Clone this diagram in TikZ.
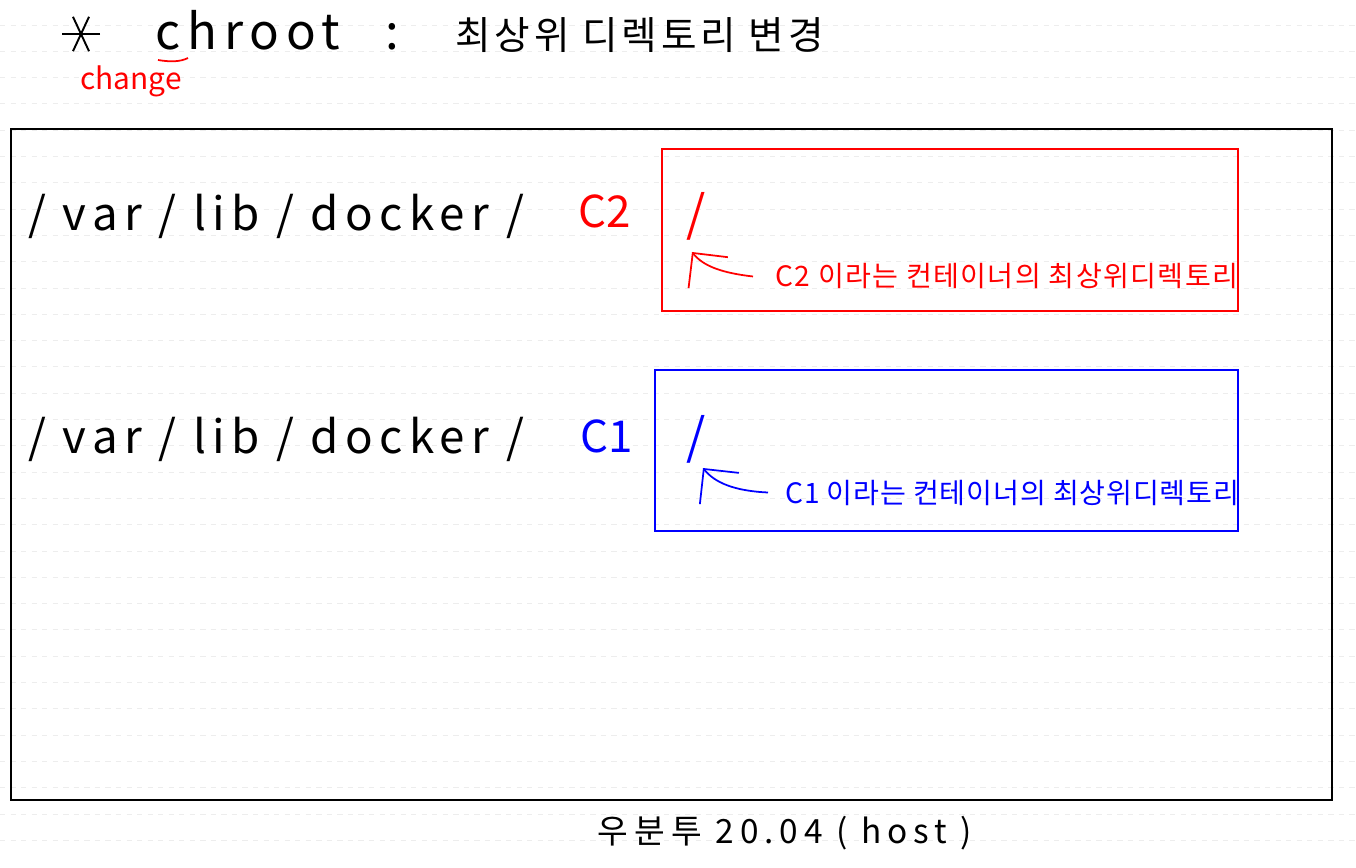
\documentclass[tikz,border=0pt]{standalone}
\usepackage{fontspec}
\setmainfont{Noto Sans CJK KR}
\usetikzlibrary{arrows.meta, positioning}
\definecolor{penred}{RGB}{255,0,0}
\definecolor{penblue}{RGB}{0,0,255}

\begin{document}
\begin{tikzpicture}[x=0.02cm, y=-0.02cm,
    dirtext/.style={anchor=base west, inner sep=0pt, font=\fontsize{26}{30}\selectfont\addfontfeature{LetterSpace=14}},
    rootslash/.style={anchor=base west, inner sep=0pt, font=\fontsize{28}{32}\selectfont},
    note/.style={anchor=base west, inner sep=0pt, font=\fontsize{16}{19}\selectfont\addfontfeature{LetterSpace=5}},
    titletext/.style={anchor=base west, inner sep=0pt, font=\fontsize{28}{32}\selectfont},
    rootbox/.style={draw, line width=0.7pt},
    arr/.style={-{Straight Barb[length=5mm, width=10mm]}, line width=1pt},
    ruled/.style={black!7, dashed, line width=0.5pt}
]
    \useasboundingbox[fill=white] (0,0) rectangle (1356,868);

    % ruled paper
    \foreach \k in {0,...,31}
        \draw[ruled] (0,{25+26.3*\k}) -- (1356,{25+26.3*\k});

    % title
    \coordinate (star) at (81,34);
    \foreach \a in {0,65,115}
        \draw[line width=1.1pt] (star) ++(\a:19) -- ++(\a+180:38);
    \node[titletext, font=\fontsize{28}{32}\selectfont\addfontfeature{LetterSpace=14}] (chroot) at (155,50) {chroot};
    \node[titletext] (colon) at (385,50) {:};
    \node[anchor=base west, inner sep=0pt, font=\fontsize{22}{26}\selectfont\addfontfeature{LetterSpace=10}] (meaning) at (455,50) {최상위 디렉토리 변경};
    \draw[penred, line width=1pt] (158,60) .. controls (170,62) and (180,62) .. (188,58);
    \node[anchor=base west, inner sep=0pt, text=penred, font=\fontsize{17}{20}\selectfont] (change) at (80,90) {change};

    % host
    \node[rootbox, draw=black, line width=1pt, minimum width=26.42cm, minimum height=13.42cm] (host) at (671.5,464.5) {};
    \node[anchor=base, inner sep=0pt, font=\fontsize{19}{22}\selectfont\addfontfeature{LetterSpace=18}] (hostlabel) at (785,843) {우분투 20.04 ( host )};

    % container c2
    \node[dirtext] (c2path) at (28,231) {/ var / lib / docker /};
    \node[dirtext, font=\fontsize{25}{30}\selectfont, text=penred] (c2name) at (578,228) {C2};
    \node[rootbox, draw=penred, minimum width=11.52cm, minimum height=3.24cm] (c2box) at (950,230) {};
    \node[rootslash, text=penred] (c2root) at (686,232) {/};
    \node[note, text=penred] (c2note) at (775,287) {C2 이라는 컨테이너의 최상위디렉토리};
    \coordinate (c2tip) at (692,252);
    \draw[arr, penred] ([xshift=-0.44cm]c2note.west) .. controls (722,273) and (703,266) .. (c2tip);

    % container c1
    \node[dirtext] (c1path) at (28,453) {/ var / lib / docker /};
    \node[dirtext, font=\fontsize{25}{30}\selectfont, text=penblue] (c1name) at (580,452) {C1};
    \node[rootbox, draw=penblue, minimum width=11.66cm, minimum height=3.22cm] (c1box) at (946.5,450.5) {};
    \node[rootslash, text=penblue] (c1root) at (686,454) {/};
    \node[note, text=penblue, font=\fontsize{16}{19}\selectfont\addfontfeature{LetterSpace=3}] (c1note) at (785,503) {C1 이라는 컨테이너의 최상위디렉토리};
    \coordinate (c1tip) at (703,468);
    \draw[arr, penblue] ([xshift=-0.34cm]c1note.west) .. controls (735,491) and (715,483) .. (c1tip);
\end{tikzpicture}
\end{document}
